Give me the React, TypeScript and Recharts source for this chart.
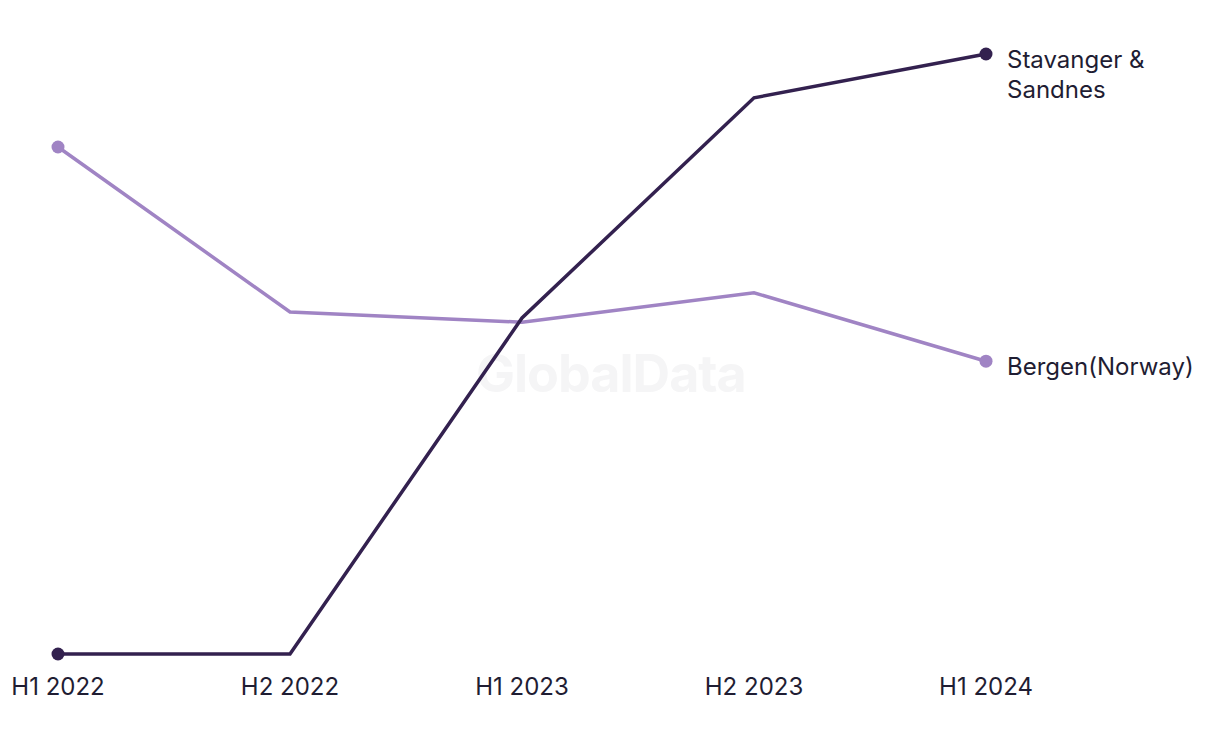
import { Line, LineChart, XAxis, YAxis } from "recharts";

const periods = ["H1 2022", "H2 2022", "H1 2023", "H2 2023", "H1 2024"];
const stavanger = [0, 0, 56, 92.7, 100];
const bergen = [84.5, 57, 55.3, 60.2, 48.8];

const seriesNames = {
  stavanger: ["Stavanger &", "Sandnes"],
  bergen: ["Bergen(Norway)"],
};

const data = periods.map((period, i) => ({
  period,
  stavanger: stavanger[i],
  bergen: bergen[i],
}));

const DARK = "#33214f";
const LIGHT = "#a084c4";
const TEXT = "#1f1d33";
const FONT = "Inter, 'Noto Sans', sans-serif";
const lastIndex = periods.length - 1;

function EndDot(color: string) {
  return (props: any) => {
    const { cx, cy, index } = props;
    if (index !== 0 && index !== lastIndex) return <g key={`d-${index}`} />;
    return <circle key={`d-${index}`} cx={cx} cy={cy} r={6.5} fill={color} />;
  };
}

function EndLabel(lines: string[]) {
  return (props: any) => {
    const { x, y, index } = props;
    if (index !== lastIndex) return null;
    return (
      <text x={x + 21} y={y} fill={TEXT} fontSize={24} fontFamily={FONT}>
        {lines.map((line, i) => (
          <tspan key={line} x={x + 21} dy={i === 0 ? 14 : 30}>
            {line}
          </tspan>
        ))}
      </text>
    );
  };
}

function PeriodTick(props: any) {
  const { x, y, payload } = props;
  return (
    <text x={x} y={y} dy={41} textAnchor="middle" fill={TEXT} fontSize={24} fontFamily={FONT}>
      {payload.value}
    </text>
  );
}

export default function App() {
  return (
    <div style={{ position: "relative", width: 1204, height: 728, background: "#fff" }}>
      <div
        style={{
          position: "absolute",
          left: 468,
          top: 334,
          fontFamily: FONT,
          fontWeight: 700,
          fontSize: 52,
          color: "#f5f5f6",
          letterSpacing: -1,
        }}
      >
        GlobalData
      </div>
      <div style={{ position: "absolute", left: 0, top: 0 }}>
        <LineChart width={1204} height={728} data={data} margin={{ top: 46, right: 226, bottom: 22, left: 50 }}>
          <XAxis
            dataKey="period"
            axisLine={false}
            tickLine={false}
            tickSize={0}
            tickMargin={0}
            height={60}
            interval={0}
            tick={PeriodTick}
          />
          <YAxis hide domain={[0, 100]} />
          <Line
            dataKey="bergen"
            stroke={LIGHT}
            strokeWidth={3.5}
            dot={EndDot(LIGHT)}
            activeDot={false}
            label={EndLabel(seriesNames.bergen)}
            isAnimationActive={false}
          />
          <Line
            dataKey="stavanger"
            stroke={DARK}
            strokeWidth={3.5}
            dot={EndDot(DARK)}
            activeDot={false}
            label={EndLabel(seriesNames.stavanger)}
            isAnimationActive={false}
          />
        </LineChart>
      </div>
    </div>
  );
}
